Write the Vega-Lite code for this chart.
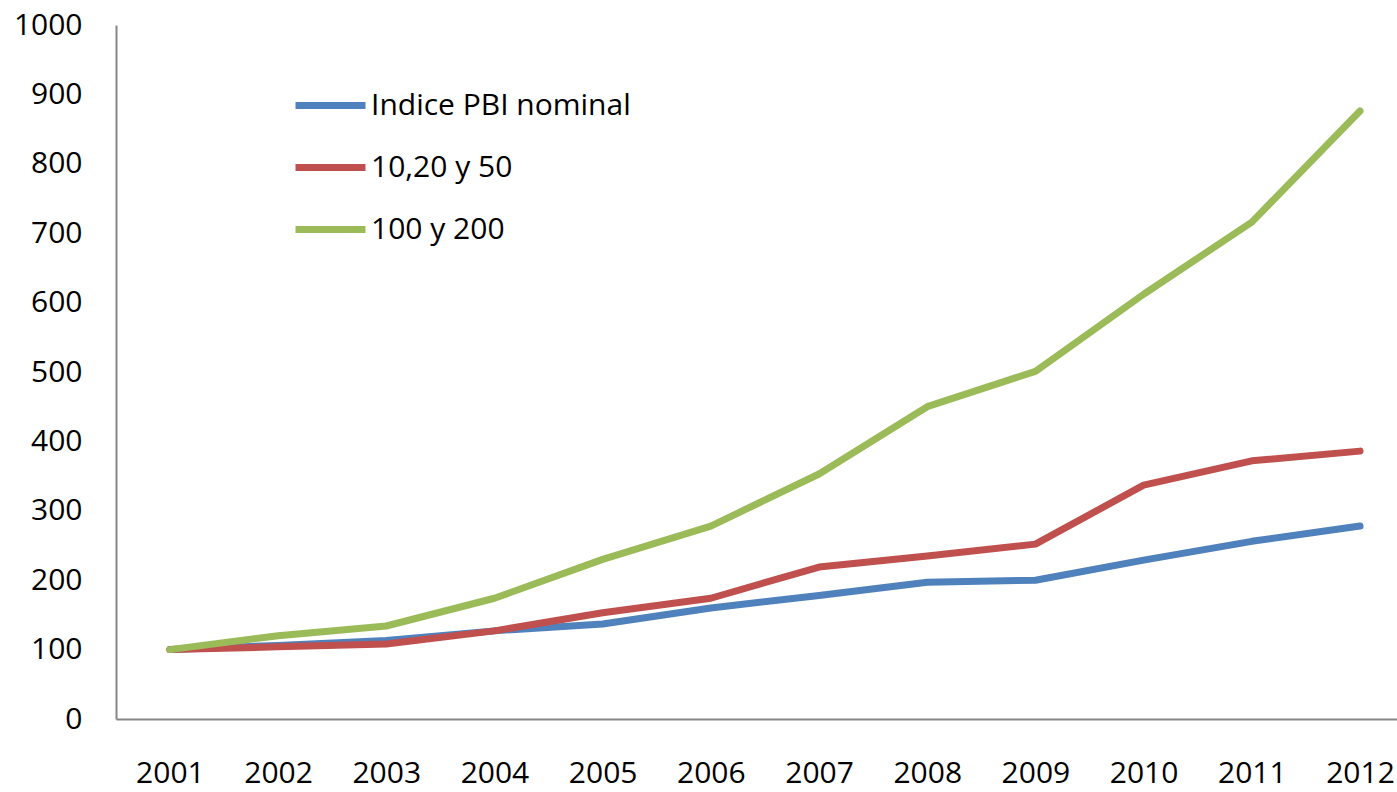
{
  "$schema": "https://vega.github.io/schema/vega-lite/v6.json",
  "autosize": "none",
  "width": 1281,
  "height": 694,
  "padding": {"left": 116, "top": 25, "right": 0, "bottom": 73},
  "background": "white",
  "config": {
    "view": {"stroke": null},
    "font": "Open Sans"
  },
  "data": {
    "values": [
      {"year": "2001", "serie": "Indice PBI nominal", "valor": 100},
      {"year": "2002", "serie": "Indice PBI nominal", "valor": 106},
      {"year": "2003", "serie": "Indice PBI nominal", "valor": 113},
      {"year": "2004", "serie": "Indice PBI nominal", "valor": 127},
      {"year": "2005", "serie": "Indice PBI nominal", "valor": 137},
      {"year": "2006", "serie": "Indice PBI nominal", "valor": 160},
      {"year": "2007", "serie": "Indice PBI nominal", "valor": 178},
      {"year": "2008", "serie": "Indice PBI nominal", "valor": 197},
      {"year": "2009", "serie": "Indice PBI nominal", "valor": 200},
      {"year": "2010", "serie": "Indice PBI nominal", "valor": 229},
      {"year": "2011", "serie": "Indice PBI nominal", "valor": 256},
      {"year": "2012", "serie": "Indice PBI nominal", "valor": 278},
      {"year": "2001", "serie": "10,20 y 50", "valor": 100},
      {"year": "2002", "serie": "10,20 y 50", "valor": 104},
      {"year": "2003", "serie": "10,20 y 50", "valor": 108},
      {"year": "2004", "serie": "10,20 y 50", "valor": 127},
      {"year": "2005", "serie": "10,20 y 50", "valor": 153},
      {"year": "2006", "serie": "10,20 y 50", "valor": 174},
      {"year": "2007", "serie": "10,20 y 50", "valor": 219},
      {"year": "2008", "serie": "10,20 y 50", "valor": 235},
      {"year": "2009", "serie": "10,20 y 50", "valor": 252},
      {"year": "2010", "serie": "10,20 y 50", "valor": 337},
      {"year": "2011", "serie": "10,20 y 50", "valor": 372},
      {"year": "2012", "serie": "10,20 y 50", "valor": 386},
      {"year": "2001", "serie": "100 y 200", "valor": 100},
      {"year": "2002", "serie": "100 y 200", "valor": 120},
      {"year": "2003", "serie": "100 y 200", "valor": 134},
      {"year": "2004", "serie": "100 y 200", "valor": 174},
      {"year": "2005", "serie": "100 y 200", "valor": 230},
      {"year": "2006", "serie": "100 y 200", "valor": 278},
      {"year": "2007", "serie": "100 y 200", "valor": 353},
      {"year": "2008", "serie": "100 y 200", "valor": 450},
      {"year": "2009", "serie": "100 y 200", "valor": 501},
      {"year": "2010", "serie": "100 y 200", "valor": 612},
      {"year": "2011", "serie": "100 y 200", "valor": 716},
      {"year": "2012", "serie": "100 y 200", "valor": 876}
    ]
  },
  "mark": {"type": "line", "strokeWidth": 7, "strokeCap": "round", "strokeJoin": "round"},
  "encoding": {
    "x": {
      "field": "year", "type": "ordinal",
      "scale": {"type": "point", "padding": 0.42, "align": 0.593},
      "axis": {
        "title": null, "labelAngle": 0, "labelFontSize": 30, "labelColor": "black",
        "labelPadding": 39, "ticks": false, "domainColor": "#868686", "domainWidth": 2,
        "grid": false, "labelFont": "Open Sans"
      }
    },
    "y": {
      "field": "valor", "type": "quantitative",
      "scale": {"domain": [0, 1000], "nice": false, "zero": true},
      "axis": {
        "title": null, "values": [0, 100, 200, 300, 400, 500, 600, 700, 800, 900, 1000],
        "format": "d",
        "labelFontSize": 30, "labelColor": "black", "labelPadding": 34, "ticks": false,
        "domainColor": "#868686", "domainWidth": 2, "grid": false, "labelFont": "Open Sans"
      }
    },
    "color": {
      "field": "serie", "type": "nominal",
      "sort": ["Indice PBI nominal", "10,20 y 50", "100 y 200"],
      "scale": {
        "domain": ["Indice PBI nominal", "10,20 y 50", "100 y 200"],
        "range": ["#4F81BD", "#C0504D", "#9BBB59"]
      },
      "legend": {
        "title": null, "orient": "none", "legendX": 176, "legendY": 42,
        "symbolType": "stroke", "symbolSize": 4900, "symbolStrokeWidth": 7,
        "labelFontSize": 30, "labelColor": "black", "labelFont": "Open Sans",
        "labelLimit": 0, "rowPadding": 8, "labelOffset": 2
      }
    }
  }
}
